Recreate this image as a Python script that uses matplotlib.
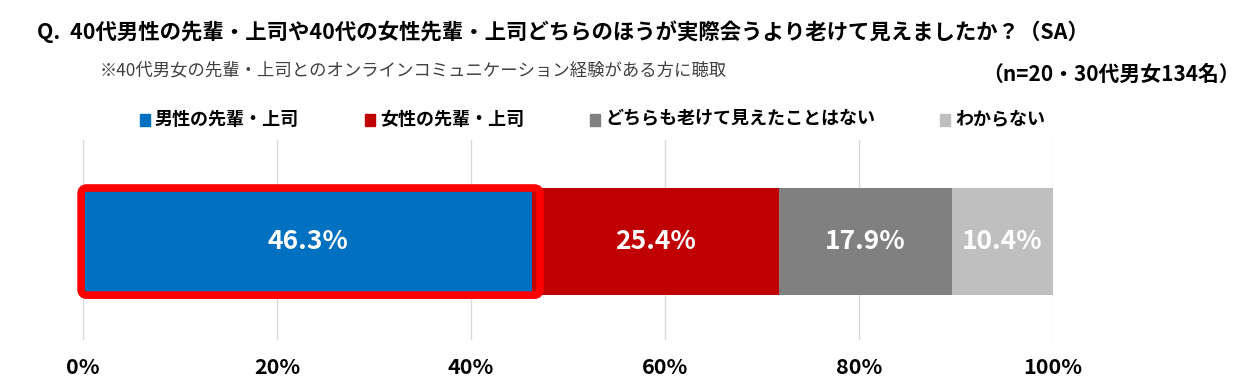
import matplotlib.pyplot as plt
from matplotlib.patches import FancyBboxPatch, Rectangle

plt.rcParams['font.family'] = ['Noto Sans CJK JP', 'DejaVu Sans']

# data
categories = ['男性の先輩・上司', '女性の先輩・上司', 'どちらも老けて見えたことはない', 'わからない']
values = [46.3, 25.4, 17.9, 10.4]
colors = ['#0070C0', '#C00000', '#808080', '#BFBFBF']
xticks = [0, 20, 40, 60, 80, 100]

title = 'Q.  40代男性の先輩・上司や40代の女性先輩・上司どちらのほうが実際会うより老けて見えましたか？（SA）'
subtitle = '※40代男女の先輩・上司とのオンラインコミュニケーション経験がある方に聴取'
note = '（n=20・30代男女134名）'

fig = plt.figure(figsize=(12.43, 3.8), dpi=100)
ax = fig.add_axes([0.0668, 0.105, 0.7804, 0.527])

bar_h = 0.535
left = 0
for cat, v, c in zip(categories, values, colors):
    ax.barh(0, v, left=left, height=bar_h, color=c, zorder=3)
    ax.text(left + v / 2, 0, f'{v:.1f}%', ha='center', va='center',
            color='white', fontsize=19, fontweight='bold', zorder=5)
    left += v

# highlight box around the first bar
ax.add_patch(FancyBboxPatch((-0.2, -bar_h / 2), values[0] + 1.0, bar_h,
                            boxstyle='round,pad=0,rounding_size=0.6',
                            fill=False, edgecolor='#FF0000', linewidth=5.5,
                            zorder=4, clip_on=False, mutation_aspect=0.05))

ax.set_xlim(0, 100)
ax.set_ylim(-0.492, 0.508)
ax.set_xticks(xticks)
ax.set_xticklabels([f'{t}%' for t in xticks], fontsize=15.5, fontweight='bold')
ax.tick_params(axis='x', length=0, pad=12)
ax.set_yticks([])
ax.grid(axis='x', color='#D9D9D9', linewidth=1, zorder=0)
for s in ax.spines.values():
    s.set_visible(False)

# legend
leg_x = [140, 365, 590, 940]
for cat, c, lx in zip(categories, colors, leg_x):
    fig.patches.append(Rectangle((lx / 1243, 1 - 126 / 380), 10 / 1243, 12 / 380,
                                 transform=fig.transFigure, color=c, figure=fig))
    fig.text((lx + 15) / 1243, 1 - 119 / 380, cat, fontsize=13, fontweight='bold',
             va='center', ha='left')

fig.text(37 / 1243, 1 - 32 / 380, title, fontsize=15.4, fontweight='bold', va='center')
fig.text(100 / 1243, 1 - 70 / 380, subtitle, fontsize=12.5, color='#404040', va='center')
fig.text(1240 / 1243, 1 - 74 / 380, note, fontsize=15, fontweight='bold', va='center', ha='right')

fig.savefig('out.png', dpi=100)
